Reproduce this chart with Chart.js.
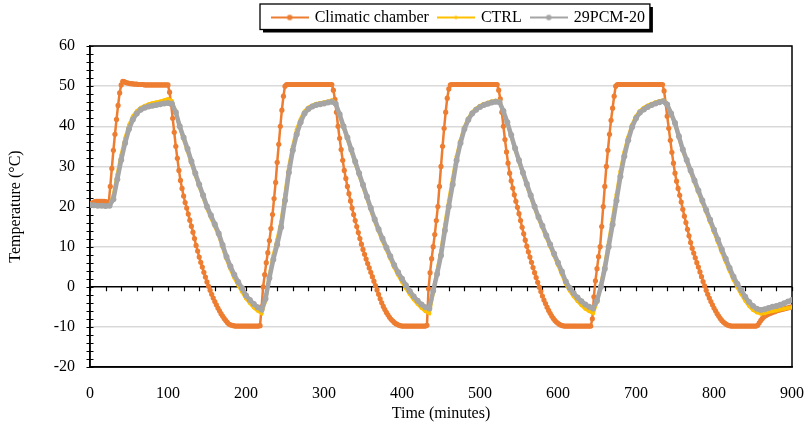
<!DOCTYPE html>
<html>
<head>
<meta charset="utf-8">
<script src="https://cdn.jsdelivr.net/npm/chart.js@4.4.0/dist/chart.umd.min.js"></script>
<style>
  html, body { margin: 0; padding: 0; background: #fff; }
</style>
</head>
<body>
<canvas id="myChart" width="810" height="430"></canvas>
<script>
// minutes between two readings
const chamberStep = 2
const probeStep = 5

// climatic chamber air, one reading every 2 min (0 .. 900)
const chamberTemp = [
  20.5, 20.8, 21.0, 21.2, 21.3, 21.3, 21.3, 21.3, 21.3, 21.3,
  21.2, 21.1, 20.9, 25.0, 29.5, 34.0, 38.0, 41.7, 45.2, 48.3,
  50.3, 51.2, 51.1, 50.9, 50.8, 50.7, 50.6, 50.6, 50.5, 50.5,
  50.5, 50.4, 50.4, 50.4, 50.4, 50.3, 50.3, 50.3, 50.3, 50.3,
  50.3, 50.3, 50.3, 50.3, 50.3, 50.3, 50.3, 50.3, 50.3, 50.3,
  50.3, 48.5, 45.5, 42.0, 38.5, 35.0, 32.0, 29.0, 26.5, 24.5,
  22.6, 21.0, 19.6, 18.1, 16.6, 15.1, 13.6, 12.0, 10.3, 8.9,
  7.4, 6.1, 4.9, 3.6, 2.4, 1.2, 0.1, -0.9, -1.9, -2.8,
  -3.7, -4.5, -5.3, -6.0, -6.7, -7.3, -7.9, -8.4, -8.9, -9.3,
  -9.5, -9.6, -9.7, -9.8, -9.8, -9.8, -9.8, -9.8, -9.8, -9.8,
  -9.8, -9.8, -9.8, -9.8, -9.8, -9.8, -9.8, -9.8, -9.8, -9.7,
  -5.0, 0.0, 3.0, 6.0, 8.5, 11.5, 14.5, 18.0, 22.0, 26.0,
  31.0, 35.5, 40.0, 44.0, 47.5, 50.0, 50.4, 50.4, 50.4, 50.4,
  50.4, 50.4, 50.4, 50.4, 50.4, 50.4, 50.4, 50.4, 50.4, 50.4,
  50.4, 50.4, 50.4, 50.4, 50.4, 50.4, 50.4, 50.4, 50.4, 50.4,
  50.4, 50.4, 50.4, 50.4, 50.4, 50.4, 49.0, 46.7, 43.5, 40.0,
  37.0, 34.2, 31.5, 29.0, 27.0, 25.0, 23.2, 21.4, 19.6, 18.0,
  16.5, 15.0, 13.5, 12.0, 10.6, 9.3, 8.1, 6.9, 5.8, 4.7,
  3.6, 2.5, 1.4, 0.3, -0.8, -1.9, -3.0, -4.0, -4.9, -5.7,
  -6.4, -7.0, -7.6, -8.1, -8.5, -8.9, -9.2, -9.4, -9.6, -9.7,
  -9.8, -9.8, -9.8, -9.8, -9.8, -9.8, -9.8, -9.8, -9.8, -9.8,
  -9.8, -9.8, -9.8, -9.8, -9.8, -9.8, -9.6, -0.5, 3.5, 7.0,
  10.0, 13.0, 16.5, 20.0, 25.0, 30.0, 35.0, 39.5, 43.5, 47.0,
  49.3, 50.3, 50.4, 50.4, 50.4, 50.4, 50.4, 50.4, 50.4, 50.4,
  50.4, 50.4, 50.4, 50.4, 50.4, 50.4, 50.4, 50.4, 50.4, 50.4,
  50.4, 50.4, 50.4, 50.4, 50.4, 50.4, 50.4, 50.4, 50.4, 50.4,
  50.4, 50.4, 49.0, 46.8, 43.5, 40.0, 36.7, 33.6, 30.8, 28.3,
  26.4, 24.6, 22.9, 21.3, 19.8, 18.2, 16.5, 14.8, 13.2, 11.6,
  10.1, 8.7, 7.4, 6.1, 4.8, 3.5, 2.3, 1.1, -0.1, -1.2,
  -2.3, -3.3, -4.2, -5.1, -5.9, -6.6, -7.3, -7.9, -8.4, -8.8,
  -9.1, -9.4, -9.6, -9.7, -9.8, -9.8, -9.8, -9.8, -9.8, -9.8,
  -9.8, -9.8, -9.8, -9.8, -9.8, -9.8, -9.8, -9.8, -9.8, -9.8,
  -9.8, -9.8, -8.0, -2.5, 1.5, 4.5, 7.5, 10.0, 15.0, 20.0,
  25.0, 30.0, 34.0, 38.0, 41.5, 44.5, 47.5, 50.0, 50.4, 50.4,
  50.4, 50.4, 50.4, 50.4, 50.4, 50.4, 50.4, 50.4, 50.4, 50.4,
  50.4, 50.4, 50.4, 50.4, 50.4, 50.4, 50.4, 50.4, 50.4, 50.4,
  50.4, 50.4, 50.4, 50.4, 50.4, 50.4, 50.4, 50.4, 48.8, 45.8,
  42.5, 39.5, 36.5, 33.5, 30.8, 28.3, 26.3, 24.5, 22.8, 21.1,
  19.3, 17.6, 16.0, 14.3, 12.7, 11.0, 9.6, 8.4, 7.2, 6.0,
  4.9, 3.7, 2.5, 1.3, 0.2, -0.9, -1.9, -2.8, -3.7, -4.5,
  -5.3, -6.0, -6.7, -7.3, -7.9, -8.4, -8.8, -9.1, -9.4, -9.6,
  -9.7, -9.8, -9.8, -9.8, -9.8, -9.8, -9.8, -9.8, -9.8, -9.8,
  -9.8, -9.8, -9.8, -9.8, -9.8, -9.8, -9.8, -9.8, -9.6, -9.0,
  -8.4, -7.9, -7.5, -7.2, -7.0, -6.8, -6.6, -6.5, -6.3, -6.2,
  -6.0, -5.9, -5.8, -5.7, -5.6, -5.5, -5.4, -5.3, -5.2, -5.1,
  -5.0
]

// CTRL panel, one reading every 5 min (0 .. 900)
const ctrlTemp = [
  20.3, 20.2, 20.1, 20.1, 20.0, 20.3, 22.8, 28.0, 32.8, 37.0,
  40.3, 42.5, 43.8, 44.6, 45.1, 45.5, 45.8, 46.0, 46.2, 46.5,
  46.8, 46.3, 43.6, 39.8, 36.8, 33.8, 30.8, 27.8, 25.0, 22.3,
  19.5, 17.2, 15.0, 12.8, 9.8, 6.9, 4.4, 2.2, 0.4, -1.3,
  -2.9, -4.1, -5.2, -6.0, -6.6, -3.5, 2.8, 7.8, 11.8, 16.2,
  23.0, 30.0, 35.0, 39.2, 41.8, 43.7, 44.7, 45.2, 45.6, 45.8,
  46.0, 46.2, 46.5, 45.8, 42.8, 39.7, 36.8, 33.8, 30.8, 27.8,
  24.9, 22.0, 19.1, 16.3, 13.8, 11.4, 9.2, 7.0, 4.8, 2.9,
  1.2, -0.4, -1.9, -3.2, -4.3, -5.3, -6.1, -6.6, -1.5, 4.0,
  9.0, 15.5, 21.5, 27.0, 32.5, 36.5, 39.8, 42.0, 43.5, 44.4,
  45.1, 45.6, 45.9, 46.2, 46.4, 46.2, 43.6, 40.7, 37.5, 34.2,
  31.1, 28.1, 25.2, 22.4, 19.6, 17.0, 14.7, 12.3, 10.0, 7.7,
  5.4, 3.1, 0.7, -1.0, -2.4, -3.6, -4.6, -5.5, -6.1, -6.6,
  -3.8, 0.6, 5.5, 11.2, 17.0, 23.0, 28.8, 33.6, 37.3, 40.4,
  42.5, 43.8, 44.6, 45.2, 45.6, 46.0, 46.3, 46.5, 45.5, 43.1,
  40.5, 37.2, 33.9, 31.2, 28.6, 26.0, 23.5, 21.0, 18.6, 16.1,
  13.6, 11.1, 8.6, 6.2, 3.9, 1.7, -0.2, -1.9, -3.5, -4.8,
  -5.8, -6.4, -6.7, -6.6, -6.3, -6.1, -5.9, -5.7, -5.5, -5.3,
  -5.1
]

// 29PCM-20 panel, one reading every 5 min (0 .. 900)
const pcmTemp = [
  20.4, 20.3, 20.2, 20.2, 20.1, 20.2, 21.8, 26.8, 31.6, 35.8,
  39.3, 41.7, 43.2, 44.1, 44.6, 44.9, 45.1, 45.3, 45.5, 45.7,
  45.8, 45.6, 43.5, 40.0, 37.2, 34.4, 31.3, 28.3, 25.5, 22.8,
  20.0, 17.8, 15.6, 13.3, 10.4, 7.5, 5.1, 3.0, 1.2, -0.4,
  -2.2, -3.3, -4.3, -5.1, -5.7, -3.0, 2.2, 6.8, 10.5, 14.8,
  21.5, 28.5, 34.0, 38.0, 41.0, 43.2, 44.3, 44.9, 45.3, 45.5,
  45.7, 45.9, 46.1, 45.6, 43.0, 40.0, 37.2, 34.2, 31.2, 28.3,
  25.4, 22.5, 19.6, 16.8, 14.3, 12.0, 9.8, 7.6, 5.4, 3.6,
  2.0, 0.4, -1.1, -2.4, -3.5, -4.4, -5.1, -5.4, -1.0, 3.2,
  7.8, 14.0, 20.0, 25.5, 31.5, 35.8, 39.3, 41.6, 43.2, 44.1,
  44.8, 45.3, 45.6, 45.9, 46.1, 46.0, 43.8, 41.0, 37.8, 34.5,
  31.5, 28.5, 25.6, 22.8, 20.0, 17.4, 15.2, 12.8, 10.5, 8.2,
  6.0, 3.8, 1.3, -0.3, -1.6, -2.7, -3.6, -4.4, -5.0, -5.4,
  -3.5, 0.0, 4.5, 10.0, 15.5, 21.5, 27.5, 32.5, 36.5, 39.8,
  42.0, 43.4, 44.2, 44.8, 45.3, 45.7, 46.0, 46.2, 45.4, 43.2,
  40.8, 37.5, 34.2, 31.6, 29.0, 26.5, 24.0, 21.5, 19.1, 16.7,
  14.2, 11.8, 9.3, 7.0, 4.7, 2.5, 0.7, -0.9, -2.5, -3.8,
  -4.8, -5.5, -5.8, -5.6, -5.3, -5.0, -4.8, -4.5, -4.1, -3.7,
  -3.3
]

const seriesNames = ["Climatic chamber", "CTRL", "29PCM-20"]
const seriesColors = ["#ED7D31", "#FFC000", "#A5A5A5"]

const serif = "'Liberation Serif', 'Times New Roman', serif"

function toPoints(values, step){
  return values.map((v, i) => ({x: i * step, y: v}))
}

// little line + dot used as legend symbol
function legendMark(color, lineW, dotR){
  const c = document.createElement("canvas")
  c.width = 38
  c.height = 10
  const g = c.getContext("2d")
  g.strokeStyle = color
  g.lineWidth = lineW
  g.beginPath()
  g.moveTo(0, 5)
  g.lineTo(38, 5)
  g.stroke()
  g.fillStyle = color
  g.beginPath()
  g.arc(19, 5, dotR, 0, Math.PI * 2)
  g.fill()
  return c
}
const marks = [
  legendMark(seriesColors[0], 2, 2.8),
  legendMark(seriesColors[1], 2, 1.8),
  legendMark(seriesColors[2], 2, 2.8)
]

// legend frame, plot frame, minor ticks
const frame = {
  id: "frame",
  afterLayout(chart){
    const l = chart.legend
    const pad = l.options.labels.padding
    const startX = (l.left + pad + l.right - l.lineWidths[0]) / 2
    const dx = 272.7 - startX
    const dy = 17.5 - (l.top + pad + 8)
    l.left += dx; l.right += dx
    l.top += dy; l.bottom += dy
    l._boxX = 272.7 - 12.7
    l._boxR = 272.7 + l.lineWidths[0] - pad + 5
  },
  beforeDraw(chart){
    const l = chart.legend
    const ctx = chart.ctx
    const x = l._boxX, r = l._boxR, t = 4, b = 29.5
    ctx.save()
    ctx.fillStyle = "#000"
    ctx.fillRect(x + 3, t + 3, r - x, b - t)
    ctx.fillStyle = "#fff"
    ctx.fillRect(x, t, r - x, b - t)
    ctx.strokeStyle = "#000"
    ctx.lineWidth = 1.3
    ctx.strokeRect(x, t, r - x, b - t)
    ctx.restore()
  },
  beforeDatasetsDraw(chart){
    const {ctx, chartArea: a, scales} = chart
    ctx.save()
    ctx.strokeStyle = "#000"
    ctx.lineWidth = 1.5
    ctx.strokeRect(a.left, a.top, a.right - a.left, a.bottom - a.top)
    // y ticks every 2 degrees, crossing the axis
    ctx.lineWidth = 1.2
    ctx.beginPath()
    for(let v = -20; v <= 60; v += 2){
      const y = Math.round(scales.y.getPixelForValue(v)) + 0.5
      ctx.moveTo(a.left - 3.5, y)
      ctx.lineTo(a.left + 3.5, y)
    }
    // time ticks every 20 minutes, under the zero line
    const y0 = scales.y.getPixelForValue(0)
    for(let t = 0; t <= 900; t += 20){
      const x = Math.round(scales.x.getPixelForValue(t)) + 0.5
      ctx.moveTo(x, y0)
      ctx.lineTo(x, y0 + 4.5)
    }
    ctx.stroke()
    ctx.restore()
  }
}

const chart = new Chart("myChart", {
  type: "line",
  data: {
    datasets: [{
        label: seriesNames[0],
        data: toPoints(chamberTemp, chamberStep),
        borderColor: seriesColors[0],
        backgroundColor: seriesColors[0],
        borderWidth: 2.5,
        pointRadius: 2.6,
        pointBorderWidth: 0,
        pointBackgroundColor: seriesColors[0],
        order: 2
      },{
        label: seriesNames[1],
        data: toPoints(ctrlTemp, probeStep),
        borderColor: seriesColors[1],
        backgroundColor: seriesColors[1],
        borderWidth: 3.5,
        pointRadius: 2,
        pointBorderWidth: 0,
        pointBackgroundColor: seriesColors[1],
        order: 1
      },{
        label: seriesNames[2],
        data: toPoints(pcmTemp, probeStep),
        borderColor: seriesColors[2],
        backgroundColor: seriesColors[2],
        borderWidth: 4.5,
        pointRadius: 3,
        pointBorderWidth: 0,
        pointBackgroundColor: seriesColors[2],
        order: 0
      }
    ]
  },
  options: {
    responsive: false,
    animation: false,
    events: [],
    layout: { padding: {top: 10, right: 18, left: 0, bottom: 0} },
    plugins: {
      tooltip: { enabled: false },
      legend: {
        position: "top",
        labels: {
          usePointStyle: true,
          pointStyleWidth: 34,
          boxHeight: 10,
          padding: 10,
          color: "#000",
          font: { family: serif, size: 16 },
          generateLabels(c){
            return c.data.datasets.map((ds, i) => ({
              text: ds.label,
              pointStyle: marks[i],
              datasetIndex: i,
              hidden: false,
              lineWidth: 0,
              fillStyle: ds.borderColor,
              strokeStyle: ds.borderColor,
              fontColor: "#000"
            }))
          }
        }
      }
    },
    scales: {
      x: {
        type: "linear",
        min: 0,
        max: 900,
        afterFit(s){
          s.height = 63
          s.paddingLeft = 0
          s.paddingRight = 0
        },
        ticks: {
          stepSize: 100,
          padding: 17,
          color: "#000",
          font: { family: serif, size: 16 },
          maxRotation: 0
        },
        grid: { display: false, drawTicks: false },
        border: { display: true, color: "#000", width: 1.5 },
        title: {
          display: true,
          text: "Time (minutes)",
          color: "#000",
          font: { family: serif, size: 16 },
          padding: {top: 0, bottom: 7}
        }
      },
      y: {
        min: -20,
        max: 60,
        afterFit(s){ s.width = 90 },
        ticks: {
          stepSize: 10,
          padding: 15,
          color: "#000",
          font: { family: serif, size: 16 }
        },
        grid: {
          drawTicks: false,
          color: (ctx) => ctx.tick && ctx.tick.value === 0 ? "#000" : "#D9D9D9",
          lineWidth: 1.5
        },
        border: { display: true, color: "#000", width: 1.5 },
        title: {
          display: true,
          text: "Temperature (°C)",
          color: "#000",
          font: { family: serif, size: 16 },
          padding: {top: 6, bottom: 0}
        }
      }
    }
  },
  plugins: [frame]
})
</script>
</body>
</html>
